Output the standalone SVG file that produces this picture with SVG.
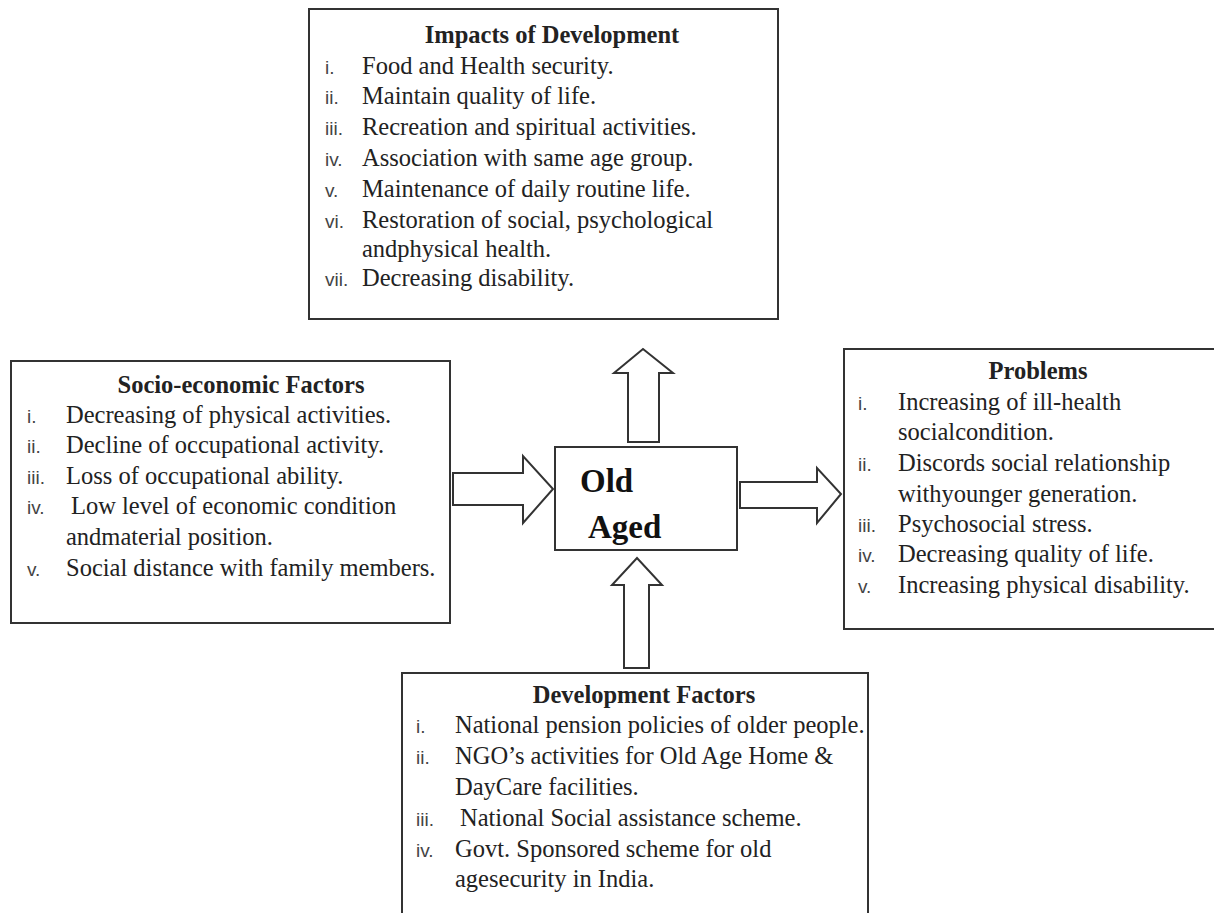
<svg xmlns="http://www.w3.org/2000/svg" width="1214" height="913" viewBox="0 0 1214 913">
<style>
.box{fill:#fff;stroke:#333;stroke-width:2}
.arr{fill:#fff;stroke:#333;stroke-width:2;stroke-linejoin:miter}
.t{font-family:"Liberation Serif",serif;font-size:24.5px;fill:#222}
.h{font-family:"Liberation Serif",serif;font-size:24.5px;font-weight:bold;fill:#222;text-anchor:middle}
.n{font-family:"Liberation Sans",sans-serif;font-size:19px;fill:#444}
.c{font-family:"Liberation Serif",serif;font-size:33px;font-weight:bold;fill:#111}
</style>
<rect width="1214" height="913" fill="#fff"/>
<g id="connectors">
<polygon class="arr" points="628,442 628,373 614,373 643,349 673,373 659,373 659,442"/>
<polygon class="arr" points="453,473 523,473 523,456 553,489 523,523 523,505 453,505"/>
<polygon class="arr" points="740,482 817,482 817,468 841,494 817,523 817,508 740,508"/>
<polygon class="arr" points="624,668 624,585 612,585 637,558 662,585 649,585 649,668"/>
</g>
<g id="impacts">
<rect class="box" x="309" y="9" width="469" height="310"/>
<text class="h" x="552" y="43">Impacts of Development</text>
<text class="n" x="325" y="74">i.</text><text class="t" x="362" y="74">Food and Health security.</text>
<text class="n" x="325" y="104">ii.</text><text class="t" x="362" y="104">Maintain quality of life.</text>
<text class="n" x="325" y="135">iii.</text><text class="t" x="362" y="135">Recreation and spiritual activities.</text>
<text class="n" x="325" y="166">iv.</text><text class="t" x="362" y="166">Association with same age group.</text>
<text class="n" x="325" y="197">v.</text><text class="t" x="362" y="197">Maintenance of daily routine life.</text>
<text class="n" x="325" y="228">vi.</text><text class="t" x="362" y="228">Restoration of social, psychological</text>
<text class="t" x="362" y="257">andphysical health.</text>
<text class="n" x="325" y="286">vii.</text><text class="t" x="362" y="286">Decreasing disability.</text>
</g>
<g id="socio">
<rect class="box" x="11" y="361" width="439" height="262"/>
<text class="h" x="241" y="393">Socio-economic Factors</text>
<text class="n" x="27" y="423">i.</text><text class="t" x="66" y="423">Decreasing of physical activities.</text>
<text class="n" x="27" y="453">ii.</text><text class="t" x="66" y="453">Decline of occupational activity.</text>
<text class="n" x="27" y="484">iii.</text><text class="t" x="66" y="484">Loss of occupational ability.</text>
<text class="n" x="27" y="514">iv.</text><text class="t" x="71" y="514">Low level of economic condition</text>
<text class="t" x="66" y="545">andmaterial position.</text>
<text class="n" x="27" y="576">v.</text><text class="t" x="66" y="576">Social distance with family members.</text>
</g>
<g id="oldaged">
<rect class="box" x="555" y="447" width="182" height="103"/>
<text class="c" x="580" y="492">Old</text>
<text class="c" x="588" y="538">Aged</text>
</g>
<g id="problems">
<path class="box" d="M1216,349 H844 V629 H1216"/>
<text class="h" x="1038" y="379">Problems</text>
<text class="n" x="858" y="410">i.</text><text class="t" x="898" y="410">Increasing of ill-health</text>
<text class="t" x="898" y="440">socialcondition.</text>
<text class="n" x="858" y="471">ii.</text><text class="t" x="898" y="471">Discords social relationship</text>
<text class="t" x="898" y="502">withyounger generation.</text>
<text class="n" x="858" y="532">iii.</text><text class="t" x="898" y="532">Psychosocial stress.</text>
<text class="n" x="858" y="562">iv.</text><text class="t" x="898" y="562">Decreasing quality of life.</text>
<text class="n" x="858" y="593">v.</text><text class="t" x="898" y="593">Increasing physical disability.</text>
</g>
<g id="development">
<path class="box" d="M402,915 V673 H868 V915"/>
<text class="h" x="644" y="703">Development Factors</text>
<text class="n" x="416" y="733">i.</text><text class="t" x="455" y="733">National pension policies of older people.</text>
<text class="n" x="416" y="764">ii.</text><text class="t" x="455" y="764">NGO’s activities for Old Age Home &amp;</text>
<text class="t" x="455" y="795">DayCare facilities.</text>
<text class="n" x="416" y="826">iii.</text><text class="t" x="460" y="826">National Social assistance scheme.</text>
<text class="n" x="416" y="857">iv.</text><text class="t" x="455" y="857">Govt. Sponsored scheme for old</text>
<text class="t" x="455" y="887">agesecurity in India.</text>
</g>
</svg>
